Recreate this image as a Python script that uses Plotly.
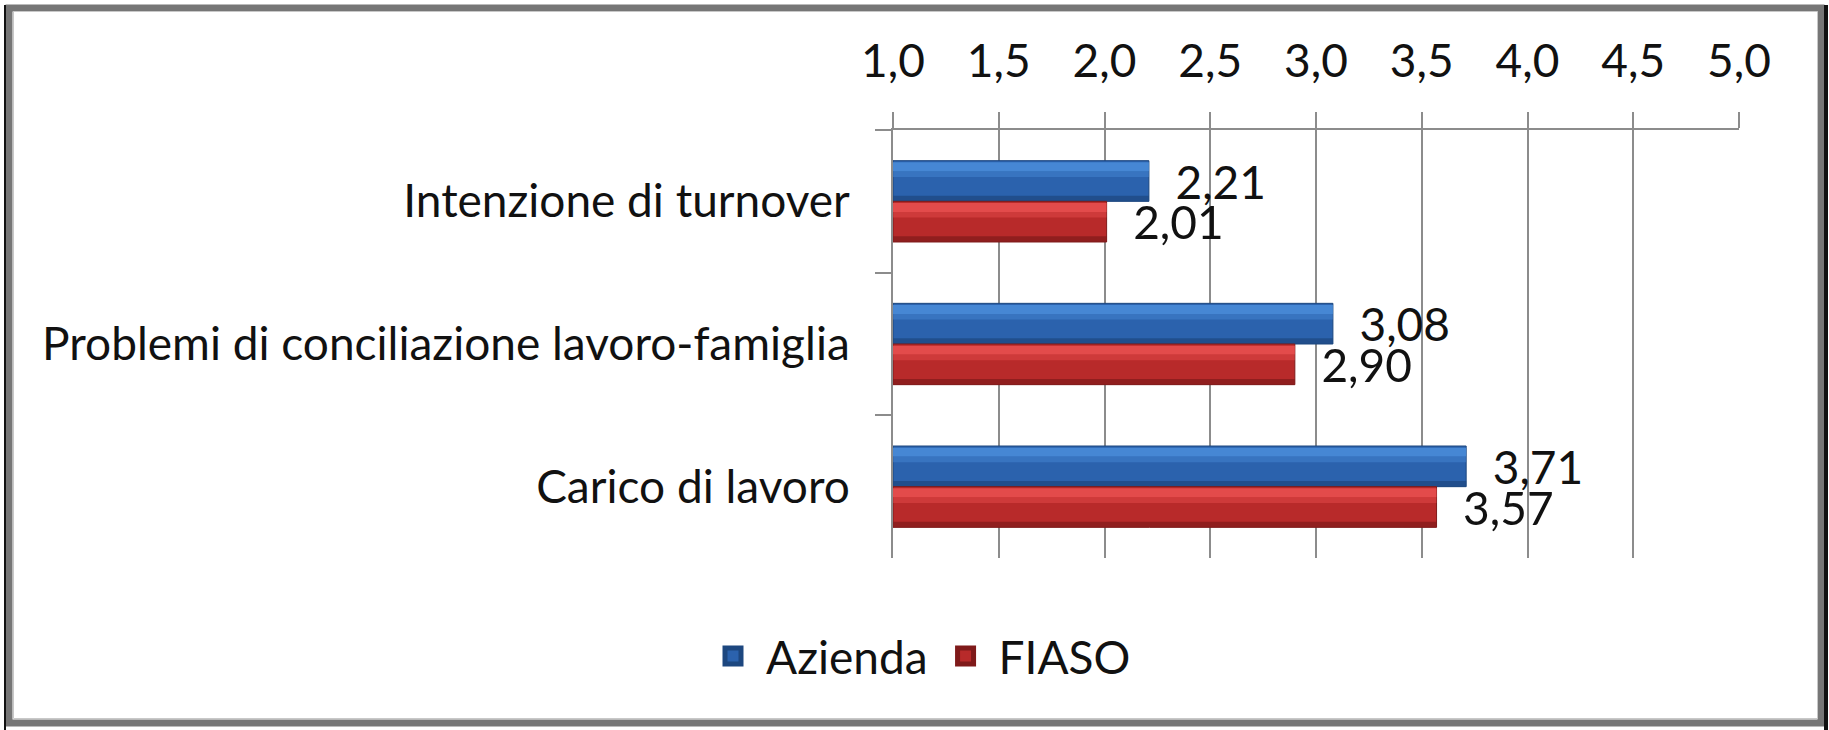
import plotly.graph_objects as go

categories = ["Intenzione di turnover", "Problemi di conciliazione lavoro-famiglia", "Carico di lavoro"]
azienda = [2.21, 3.08, 3.71]
fiaso = [2.01, 2.90, 3.57]
series_names = ["Azienda", "FIASO"]
tick_vals = [1.0, 1.5, 2.0, 2.5, 3.0, 3.5, 4.0, 4.5, 5.0]

FIG_W, FIG_H = 1829, 730
L, R, T, B = 893, 90, 130, 172
PW, PH = FIG_W - L - R, FIG_H - T - B
FONT = "Lato"
FS = 46
TXT = "#111111"
AX = "#8c8c8c"

def px_x(p):
    return (p - L) / PW

def px_y(p):
    return (FIG_H - B - p) / PH

BW = 0.285
blue_main, blue_light, blue_dark = "#2b62ad", "#4a8cd8", "#1d477f"
red_main, red_light, red_dark = "#b82a2a", "#e85050", "#7f1a1a"

fig = go.Figure()

def add_bar(vals, offset, color, light, dark):
    fig.add_trace(go.Bar(
        y=categories, x=[v - 1 for v in vals], base=1, orientation="h",
        width=BW, offset=offset, marker=dict(color=color, line=dict(color=dark, width=1)),
        showlegend=False, hoverinfo="skip",
        text=list(vals), texttemplate="\u00a0\u00a0%{text:.2f}",
        textposition="outside", constraintext="none", cliponaxis=False,
        textfont=dict(family=FONT, size=FS, color=TXT),
    ))
    fig.add_trace(go.Bar(
        y=categories, x=[v - 1 for v in vals], base=1, orientation="h",
        width=BW * 0.22, offset=offset + BW * 0.04, marker=dict(color=light, line=dict(width=0)),
        showlegend=False, hoverinfo="skip", opacity=0.9,
    ))
    fig.add_trace(go.Bar(
        y=categories, x=[v - 1 for v in vals], base=1, orientation="h",
        width=BW * 0.14, offset=offset + BW * 0.26, marker=dict(color=light, line=dict(width=0)),
        showlegend=False, hoverinfo="skip", opacity=0.45,
    ))
    fig.add_trace(go.Bar(
        y=categories, x=[v - 1 for v in vals], base=1, orientation="h",
        width=BW * 0.14, offset=offset + BW * 0.86, marker=dict(color=dark, line=dict(width=0)),
        showlegend=False, hoverinfo="skip", opacity=0.7,
    ))

add_bar(azienda, -BW, blue_main, blue_light, blue_dark)
add_bar(fiaso, 0.0, red_main, red_light, red_dark)

for name, col, dk in [(series_names[0], blue_main, blue_dark), (series_names[1], red_main, red_dark)]:
    fig.add_trace(go.Scatter(
        x=[None], y=[None], mode="markers", name=name,
        marker=dict(symbol="square", size=16, color=col, line=dict(color=dk, width=5)),
    ))

shapes = []
shapes.append(dict(type="rect", xref="paper", yref="paper",
                   x0=px_x(9), x1=px_x(1821), y0=px_y(723), y1=px_y(8),
                   line=dict(color="#767676", width=7), fillcolor="rgba(0,0,0,0)", layer="above"))
shapes.append(dict(type="line", xref="paper", yref="paper",
                   x0=px_x(5), x1=px_x(5), y0=px_y(5), y1=px_y(730),
                   line=dict(color="#111111", width=2)))
shapes.append(dict(type="line", xref="paper", yref="paper",
                   x0=px_x(1826), x1=px_x(1826), y0=px_y(5), y1=px_y(730),
                   line=dict(color="#111111", width=4)))
shapes.append(dict(type="rect", xref="paper", yref="paper",
                   x0=px_x(13.5), x1=px_x(1817.5), y0=px_y(718.5), y1=px_y(11.5),
                   line=dict(color="#c8c8c8", width=1), fillcolor="rgba(0,0,0,0)"))

fig.update_layout(
    width=FIG_W, height=FIG_H,
    margin=dict(l=L, r=R, t=T, b=B),
    paper_bgcolor="white", plot_bgcolor="white",
    barmode="overlay",
    separators=",.",
    font=dict(family=FONT, size=FS, color=TXT),
    shapes=shapes,
    legend=dict(orientation="h", x=px_x(918), xanchor="center", y=px_y(656), yanchor="middle",
                font=dict(family=FONT, size=FS, color=TXT), itemwidth=56, traceorder="normal"),
    xaxis=dict(side="top", range=[1, 5], tickvals=tick_vals, tickformat=".1f",
               showgrid=True, gridcolor=AX, gridwidth=1.5,
               showline=True, linecolor=AX, linewidth=2,
               ticks="outside", ticklen=16, tickcolor=AX, tickwidth=1.5,
               ticklabelstandoff=17, zeroline=False, fixedrange=True,
               tickfont=dict(family=FONT, size=FS, color=TXT)),
    yaxis=dict(autorange="reversed", type="category", categoryorder="array", categoryarray=categories,
               showline=True, linecolor=AX, linewidth=2, showgrid=False,
               ticks="outside", ticklen=16, tickcolor=AX, tickwidth=2, tickson="boundaries",
               ticklabelstandoff=32, fixedrange=True,
               tickfont=dict(family=FONT, size=FS, color=TXT)),
)

fig.write_html("out.html", config={"displayModeBar": False},
               post_script="document.body.style.margin='0';document.body.style.overflow='hidden';")
